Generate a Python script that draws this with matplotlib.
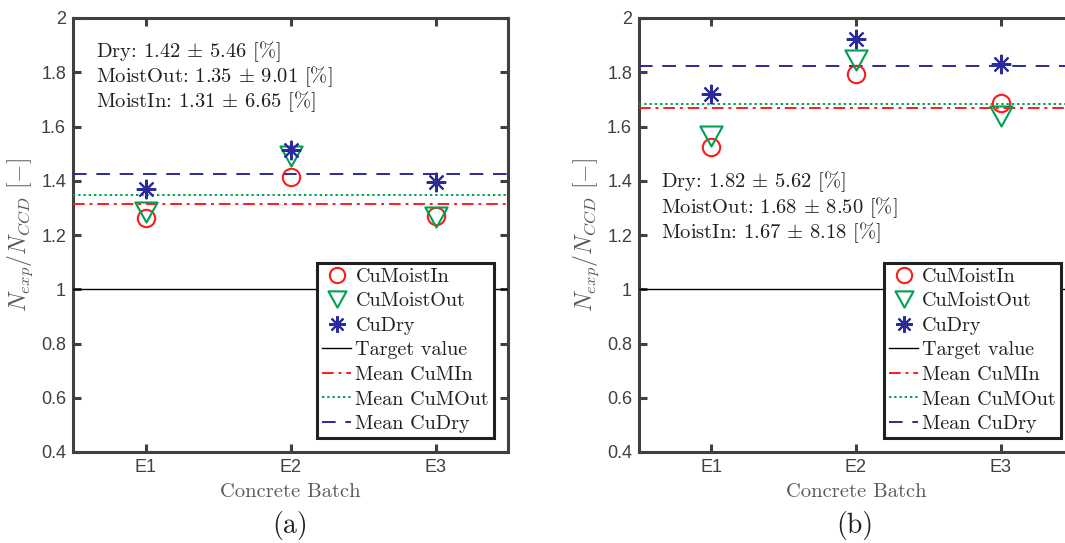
import matplotlib
matplotlib.use("Agg")
import matplotlib.pyplot as plt
import numpy as np
from matplotlib.path import Path

plt.rcParams['mathtext.fontset'] = 'cm'
plt.rcParams['axes.formatter.use_mathtext'] = False

batches = ["E1", "E2", "E3"]
yticks = [0.4, 0.6, 0.8, 1.0, 1.2, 1.4, 1.6, 1.8, 2.0]
ytick_labels = ["0.4", "0.6", "0.8", "1", "1.2", "1.4", "1.6", "1.8", "2"]

# Panel (a)
a_moist_in = [1.262, 1.415, 1.270]
a_moist_out = [1.285, 1.490, 1.268]
a_dry = [1.368, 1.514, 1.395]
a_text = ["Dry: 1.42 $\\pm$ 5.46 [%]", "MoistOut: 1.35 $\\pm$ 9.01 [%]", "MoistIn: 1.31 $\\pm$ 6.65 [%]"]

# Panel (b)
b_moist_in = [1.525, 1.795, 1.685]
b_moist_out = [1.565, 1.845, 1.640]
b_dry = [1.719, 1.923, 1.829]
b_text = ["Dry: 1.82 $\\pm$ 5.62 [%]", "MoistOut: 1.68 $\\pm$ 8.50 [%]", "MoistIn: 1.67 $\\pm$ 8.18 [%]"]

target = 1.0

RED = '#ff1a1a'
GREEN = '#00a050'
BLUE = '#2b2b9b'
GRAY = '#404040'
LGRAY = '#5a5a5a'
CM = 'cmr10'

tri = Path([(-1, 0.9), (1, 0.9), (0, -0.9), (-1, 0.9)],
           [Path.MOVETO, Path.LINETO, Path.LINETO, Path.CLOSEPOLY])

W, H = 1065, 543
fig = plt.figure(figsize=(W / 100, H / 100), dpi=100)


def make_panel(rect, m_in, m_out, dry, texts, text_pos, legend_anchor, label, label_x):
    ax = fig.add_axes(rect)
    x = np.arange(1, len(batches) + 1)
    ax.plot(x, m_in, linestyle='none', marker='o', markersize=12.5, markerfacecolor='none',
            markeredgecolor=RED, markeredgewidth=1.5, label='CuMoistIn', zorder=4)
    ax.plot(x, m_out, linestyle='none', marker=tri, markersize=16, markerfacecolor='none',
            markeredgecolor=GREEN, markeredgewidth=1.5, label='CuMoistOut', zorder=4)
    ax.plot(x, dry, linestyle='none', marker=(8, 2, 0), markersize=14,
            markeredgecolor=BLUE, color=BLUE, markeredgewidth=1.5, label='CuDry', zorder=4)
    ax.axhline(target, color='black', linewidth=1.0, label='Target value', zorder=3)
    ax.axhline(np.mean(m_in), color=RED, linewidth=1.4, linestyle=(0, (6, 2.5, 1.5, 2.5)),
               label='Mean CuMIn', zorder=3)
    ax.axhline(np.mean(m_out), color=GREEN, linewidth=1.4, linestyle=(0, (1.2, 1.5)),
               label='Mean CuMOut', zorder=3)
    ax.axhline(np.mean(dry), color=BLUE, linewidth=1.4, linestyle=(0, (7, 5)),
               label='Mean CuDry', zorder=3)

    ax.set_xlim(0.5, 3.5)
    ax.set_ylim(0.4, 2.0)
    ax.set_xticks(x)
    ax.set_xticklabels(batches, fontfamily='Liberation Sans', fontsize=13, color=GRAY)
    ax.set_yticks(yticks)
    ax.set_yticklabels(ytick_labels, fontfamily='Liberation Sans', fontsize=13, color=GRAY)
    ax.tick_params(direction='in', length=6, width=2.2, color=GRAY, top=True, right=True, pad=5)
    for sp in ax.spines.values():
        sp.set_linewidth(2.2)
        sp.set_color(GRAY)

    ax.set_xlabel('Concrete Batch', fontfamily=CM, fontsize=14.8, color=LGRAY, labelpad=5)
    ax.set_ylabel('$N_{exp}/N_{CCD}$ [$-$]', fontfamily=CM, fontsize=17, color=LGRAY, labelpad=4)

    tx, ty, dy = text_pos
    for i, t in enumerate(texts):
        ax.text(tx, ty - i * dy, t, transform=ax.transAxes, fontfamily=CM, fontsize=14.8,
                color='#202020', va='center', ha='left')

    leg = ax.legend(loc='lower right', bbox_to_anchor=legend_anchor, borderaxespad=0,
                    prop={'family': CM, 'size': 14.5}, frameon=True, fancybox=False,
                    edgecolor='#202020', handlelength=1.45, handletextpad=0.2,
                    labelspacing=0.32, borderpad=0.25, framealpha=1)
    leg.get_frame().set_linewidth(2.2)
    for t in leg.get_texts():
        t.set_color('#202020')
    hs = leg.legend_handles
    hs[0].set_markersize(11)
    hs[1].set_markersize(13)
    hs[2].set_markersize(12)

    fig.text(label_x, 1 - 526 / H, label, fontfamily=CM, fontsize=20, ha='center', va='center',
             color='#202020')
    return ax


bottom = (H - 452) / H
height = 434 / H
make_panel([73 / W, bottom, 435 / W, height], a_moist_in, a_moist_out, a_dry, a_text,
           (0.052, 0.9217, 0.0576), (0.968, 0.032), '(a)', 290 / W)
make_panel([639 / W, bottom, 434 / W, height], b_moist_in, b_moist_out, b_dry, b_text,
           (0.051, 0.622, 0.0587), (0.972, 0.032), '(b)', 855 / W)

fig.savefig('out.png', dpi=100)
